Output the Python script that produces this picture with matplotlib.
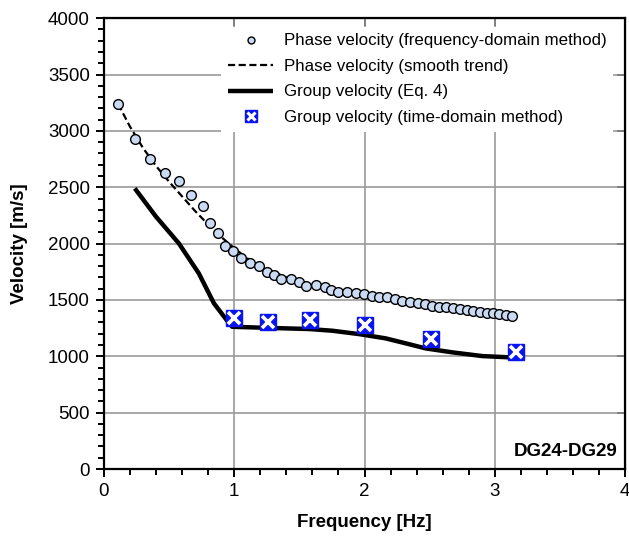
import numpy as np
import matplotlib.pyplot as plt
from matplotlib.legend_handler import HandlerBase
from matplotlib.lines import Line2D
from matplotlib.ticker import MultipleLocator

plt.rcParams['font.family'] = ['Liberation Sans', 'DejaVu Sans']

# phase velocity, frequency-domain picks
f_phase = [0.11, 0.243, 0.358, 0.468, 0.576, 0.670, 0.760, 0.814, 0.875, 0.927,
           0.993, 1.054, 1.121, 1.19, 1.249, 1.305, 1.361, 1.438, 1.497, 1.553,
           1.625, 1.694, 1.745, 1.799, 1.868, 1.932, 1.996, 2.055, 2.111, 2.175,
           2.234, 2.29, 2.349, 2.411, 2.464, 2.521, 2.572, 2.623, 2.682, 2.731,
           2.785, 2.835, 2.887, 2.938, 2.987, 3.033, 3.084, 3.13]
v_phase = [3243, 2927, 2747, 2628, 2557, 2427, 2333, 2185, 2090, 1981,
           1933, 1869, 1830, 1803, 1750, 1721, 1685, 1685, 1656, 1626,
           1632, 1617, 1588, 1567, 1573, 1562, 1549, 1537, 1528, 1523,
           1508, 1493, 1484, 1470, 1461, 1448, 1440, 1434, 1431, 1419,
           1410, 1401, 1392, 1386, 1381, 1375, 1366, 1357]

# smooth trend through the phase velocities
f_trend = [0.11, 0.2, 0.3, 0.4, 0.5, 0.6, 0.7, 0.8, 0.9, 1.0, 1.1, 1.2,
           1.4, 1.6, 1.8, 2.0, 2.2, 2.4, 2.6, 2.8, 3.0, 3.13]
v_trend = [3240, 3040, 2850, 2690, 2550, 2420, 2290, 2170, 2060, 1960, 1870, 1800,
           1700, 1630, 1578, 1545, 1515, 1475, 1440, 1408, 1380, 1355]

# group velocity from Eq. 4
f_group = [0.238, 0.40, 0.576, 0.729, 0.845, 0.947, 0.985, 1.241, 1.574, 1.753,
           1.958, 2.163, 2.316, 2.47, 2.674, 2.904, 3.11]
v_group = [2490, 2240, 2002, 1736, 1470, 1315, 1262, 1253, 1242, 1227,
           1197, 1159, 1115, 1070, 1035, 1002, 991]

# group velocity, time-domain method
f_td = [1.0, 1.26, 1.58, 2.0, 2.51, 3.16]
v_td = [1342, 1301, 1321, 1277, 1150, 1040]

BLUE = '#0a14f0'


class BoxCross(HandlerBase):
    # blue square with a white cross on top
    def create_artists(self, legend, orig_handle, xdescent, ydescent, width, height,
                       fontsize, trans):
        cx = 0.5 * width - xdescent
        cy = 0.5 * height - ydescent
        box = Line2D([cx], [cy], linestyle='none', marker='s', markersize=9,
                     markerfacecolor=BLUE, markeredgecolor=BLUE, transform=trans)
        cross = Line2D([cx], [cy], linestyle='none', marker='x', markersize=6,
                       markeredgecolor='white', markeredgewidth=2.2, transform=trans)
        return [box, cross]


fig = plt.figure(figsize=(6.29, 5.36), dpi=100)
ax = fig.add_axes([0.165, 0.125, 0.829, 0.841])

trend, = ax.plot(f_trend, v_trend, color='black', linestyle=(0, (3.2, 1.6)), linewidth=1.6,
                 zorder=3)
group, = ax.plot(f_group, v_group, color='black', linewidth=3.2, solid_capstyle='butt',
                 zorder=3)
pts, = ax.plot(f_phase, v_phase, 'o', markersize=7, markerfacecolor='#c9daf2',
               markeredgecolor='black', markeredgewidth=1.0, zorder=4)
sq, = ax.plot(f_td, v_td, 's', markersize=11, markerfacecolor=BLUE,
              markeredgecolor=BLUE, zorder=5)
xx, = ax.plot(f_td, v_td, 'x', markersize=8, markeredgecolor='white',
              markeredgewidth=2.6, zorder=6)

ax.set_xlim(0, 4)
ax.set_ylim(0, 4000)
ax.xaxis.set_major_locator(MultipleLocator(1))
ax.xaxis.set_minor_locator(MultipleLocator(0.2))
ax.yaxis.set_major_locator(MultipleLocator(500))
ax.yaxis.set_minor_locator(MultipleLocator(100))
ax.grid(True, which='major', color='#9a9a9a', linewidth=1.2)
ax.set_axisbelow(True)

for s in ax.spines.values():
    s.set_linewidth(1.6)
ax.tick_params(which='major', direction='out', length=6, width=1.4, labelsize=13.5, pad=4)
ax.tick_params(which='minor', direction='out', length=4, width=1.4)

# inward ticks on top and right
top = ax.secondary_xaxis('top')
top.xaxis.set_major_locator(MultipleLocator(1))
top.tick_params(direction='in', length=6, width=1.4, labeltop=False)
right = ax.secondary_yaxis('right')
right.yaxis.set_major_locator(MultipleLocator(500))
right.tick_params(direction='in', length=6, width=1.4, labelright=False)

ax.set_xlabel('Frequency [Hz]', fontsize=13.5, fontweight='bold', labelpad=10)
ax.set_ylabel('Velocity [m/s]', fontsize=13.5, fontweight='bold', labelpad=14)

ax.text(0.985, 0.038, 'DG24-DG29', transform=ax.transAxes, ha='right', va='center',
        fontsize=13.5, fontweight='bold')

h_pts = Line2D([0], [0], linestyle='none', marker='o', markersize=5,
               markerfacecolor='#c9daf2', markeredgecolor='black', markeredgewidth=1.0)
handles = [h_pts, trend, group, sq]
labels = ['Phase velocity (frequency-domain method)', 'Phase velocity (smooth trend)',
          'Group velocity (Eq. 4)', 'Group velocity (time-domain method)']
leg = ax.legend(handles, labels, loc='upper right', bbox_to_anchor=(0.993, 1.0),
                fontsize=12.2, frameon=True, facecolor='white', edgecolor='none',
                framealpha=1, fancybox=False, handlelength=2.7, handletextpad=0.6,
                labelspacing=0.62, borderpad=0.4,
                handler_map={sq: BoxCross()})
leg.set_zorder(7)

fig.savefig('out.png', dpi=100)
